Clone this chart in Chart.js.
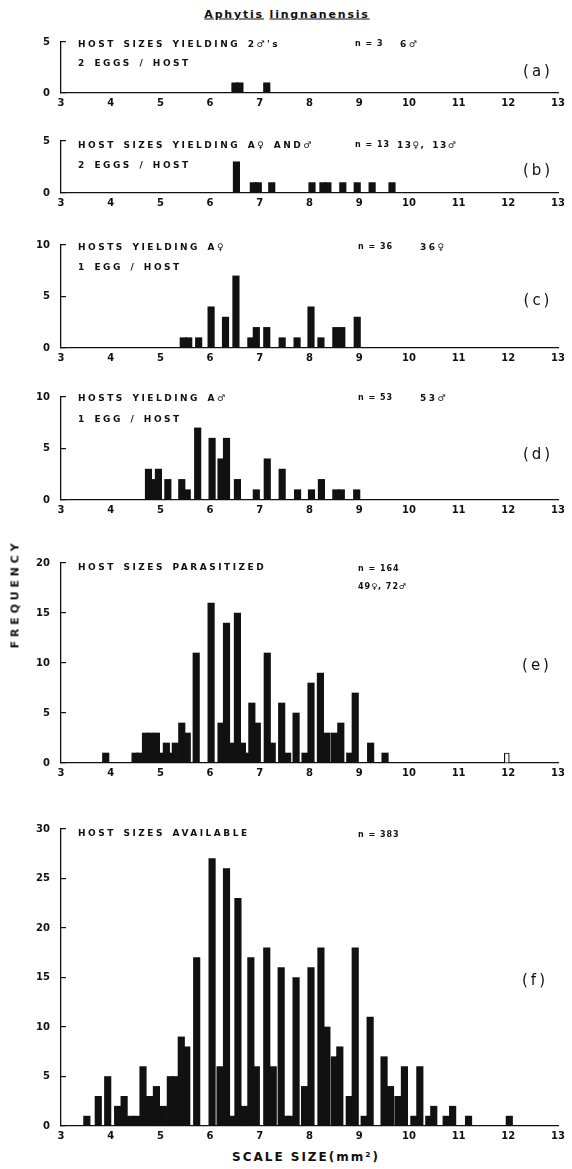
<!DOCTYPE html>
<html>
<head>
<meta charset="utf-8">
<title>Aphytis lingnanensis - host sizes</title>
<script src="https://cdn.jsdelivr.net/npm/chart.js@4.4.1/dist/chart.umd.min.js"></script>
<style>
  body { margin: 0; background: #fff; }
  #page { position: relative; width: 572px; height: 1169px; overflow: hidden; background: #fff; color: #111; font-family: "DejaVu Sans", sans-serif; }
  canvas { position: absolute; left: 0; }
  .t { position: absolute; white-space: nowrap; line-height: 1; transform: translateY(-50%); font-weight: bold; font-size: 9px; letter-spacing: 2.5px; word-spacing: 2px; }
  .n { font-size: 8px; letter-spacing: 1px; word-spacing: 0; }
  .lab { position: absolute; line-height: 1; transform: translate(-50%, -50%); font-size: 15px; letter-spacing: 3px; white-space: nowrap; }
  #title { position: absolute; left: 287px; top: 14px; transform: translate(-50%, -50%); font-weight: bold; font-size: 11px; letter-spacing: 1.8px; white-space: nowrap; }
  #title span { text-decoration: underline; }
  #ylab { position: absolute; left: 15px; top: 594px; transform: translate(-50%, -50%) rotate(-90deg); font-weight: bold; font-size: 11px; letter-spacing: 3.8px; white-space: nowrap; }
  #xlab { position: absolute; left: 306px; top: 1157px; transform: translate(-50%, -50%); font-weight: bold; font-size: 12px; letter-spacing: 2px; white-space: nowrap; }
</style>
</head>
<body>
<div id="page">
  <div id="title"><span>Aphytis</span> <span>lingnanensis</span></div>

  <canvas id="chartA"></canvas>
  <canvas id="chartB"></canvas>
  <canvas id="chartC"></canvas>
  <canvas id="chartD"></canvas>
  <canvas id="chartE"></canvas>
  <canvas id="chartF"></canvas>

  <!-- panel (a) -->
  <div class="t" style="left:78px; top:44px;">HOST SIZES YIELDING 2♂'s</div>
  <div class="t" style="left:78px; top:63px;">2 EGGS / HOST</div>
  <div class="t n" style="left:355px; top:44px;">n = 3</div>
  <div class="t" style="left:400px; top:44px;">6♂</div>
  <div class="lab" style="left:538px; top:71px;">(a)</div>

  <!-- panel (b) -->
  <div class="t" style="left:78px; top:145px;">HOST SIZES YIELDING A♀ AND♂</div>
  <div class="t" style="left:78px; top:165px;">2 EGGS / HOST</div>
  <div class="t n" style="left:355px; top:145px;">n = 13</div>
  <div class="t" style="left:397px; top:145px; letter-spacing:1.5px;">13♀, 13♂</div>
  <div class="lab" style="left:538px; top:170px;">(b)</div>

  <!-- panel (c) -->
  <div class="t" style="left:78px; top:247px;">HOSTS YIELDING A♀</div>
  <div class="t" style="left:78px; top:267px;">1 EGG / HOST</div>
  <div class="t n" style="left:358px; top:247px;">n = 36</div>
  <div class="t" style="left:420px; top:247px;">36♀</div>
  <div class="lab" style="left:538px; top:300px;">(c)</div>

  <!-- panel (d) -->
  <div class="t" style="left:78px; top:398px;">HOSTS YIELDING A♂</div>
  <div class="t" style="left:78px; top:419px;">1 EGG / HOST</div>
  <div class="t n" style="left:358px; top:398px;">n = 53</div>
  <div class="t" style="left:420px; top:398px;">53♂</div>
  <div class="lab" style="left:538px; top:454px;">(d)</div>

  <!-- panel (e) -->
  <div class="t" style="left:78px; top:567px;">HOST SIZES PARASITIZED</div>
  <div class="t n" style="left:358px; top:569px;">n = 164</div>
  <div class="t n" style="left:358px; top:587px;">49♀, 72♂</div>
  <div class="lab" style="left:537px; top:665px;">(e)</div>

  <!-- panel (f) -->
  <div class="t" style="left:78px; top:833px;">HOST SIZES AVAILABLE</div>
  <div class="t n" style="left:358px; top:835px;">n = 383</div>
  <div class="lab" style="left:535px; top:980px;">(f)</div>

  <div id="ylab">FREQUENCY</div>
  <div id="xlab">SCALE SIZE(mm²)</div>
</div>

<script>
// Scale size (mm²) of each bar and the number of hosts in it, per panel

// (a) host sizes yielding 2 males, 2 eggs / host
const aSizes = [6.50, 6.60, 7.14];
const aCounts = [1, 1, 1];

// (b) host sizes yielding a female and a male, 2 eggs / host
const bSizes = [6.53, 6.87, 6.97, 7.24, 8.05, 8.27, 8.37, 8.67, 8.96, 9.26, 9.66];
const bCounts = [3, 1, 1, 1, 1, 1, 1, 1, 1, 1, 1];

// (c) hosts yielding a female, 1 egg / host
const cSizes = [5.46, 5.57, 5.77, 6.02, 6.31, 6.52, 6.82, 6.93, 7.14, 7.45, 7.75, 8.03, 8.23, 8.53, 8.65, 8.96];
const cCounts = [1, 1, 1, 4, 3, 7, 1, 2, 2, 1, 1, 4, 1, 2, 2, 3];

// (d) hosts yielding a male, 1 egg / host
const dSizes = [4.76, 4.86, 4.96, 5.15, 5.43, 5.54, 5.75, 6.04, 6.22, 6.33, 6.55, 6.93, 7.15, 7.45, 7.76, 8.04, 8.24, 8.53, 8.64, 8.95];
const dCounts = [3, 2, 3, 2, 2, 1, 7, 6, 4, 6, 2, 1, 4, 3, 1, 1, 2, 1, 1, 1];

// (e) host sizes parasitized
const eSizes = [3.90, 4.49, 4.59, 4.70, 4.81, 4.92, 5.03, 5.12, 5.20, 5.30, 5.43, 5.54, 5.72, 6.02, 6.22, 6.33, 6.44, 6.55, 6.65, 6.74,
                6.84, 6.95, 7.15, 7.25, 7.44, 7.56, 7.73, 7.91, 8.03, 8.22, 8.35, 8.50, 8.63, 8.81, 8.92, 9.23, 9.52];
const eCounts = [1, 1, 1, 3, 3, 3, 1, 2, 1, 2, 4, 3, 11, 16, 4, 14, 2, 15, 2, 1,
                 6, 4, 11, 2, 6, 1, 5, 1, 8, 9, 3, 3, 4, 1, 7, 2, 1];
// open (unfilled) bar in (e)
const eOpenSizes = [11.97];
const eOpenCounts = [1];

// (f) host sizes available
const fSizes = [3.52, 3.75, 3.94, 4.14, 4.27, 4.40, 4.52, 4.65, 4.78, 4.92, 5.06, 5.20, 5.31, 5.42, 5.53, 5.73, 6.04, 6.20, 6.33, 6.44,
                6.56, 6.69, 6.82, 6.93, 7.14, 7.27, 7.43, 7.53, 7.62, 7.73, 7.90, 8.03, 8.23, 8.35, 8.50, 8.61, 8.80, 8.92, 9.10, 9.22,
                9.50, 9.63, 9.78, 9.91, 10.10, 10.22, 10.40, 10.50, 10.75, 10.88, 11.20, 12.02];
const fCounts = [1, 3, 5, 2, 3, 1, 1, 6, 3, 4, 2, 5, 5, 9, 8, 17, 27, 6, 26, 1,
                 23, 2, 17, 6, 18, 6, 16, 1, 1, 15, 4, 16, 18, 10, 7, 8, 3, 18, 1, 11,
                 7, 4, 3, 6, 1, 6, 1, 2, 1, 2, 1, 1];
// small open circle printed inside the 5.3 bar of (f)
const fMarkSizes = [5.27];
const fMarkCounts = [3.6];

// axis ticks shared by all panels
const xTickMin = 3;
const xTickMax = 13;
const yTickStep = 5;

const ink = '#111';
const tickFont = { family: 'DejaVu Sans', size: 10, weight: 'bold' };

function toPoints(sizes, counts) {
    return sizes.map((x, i) => ({ x: x, y: counts[i] }));
}

function barSet(sizes, counts) {
    return {
        type: 'bar',
        data: toPoints(sizes, counts),
        backgroundColor: ink,
        borderWidth: 0,
        barThickness: 6.5,
        grouped: false
    };
}

/**
 * Draw one histogram panel.
 * top is the page y of the highest y tick, base the page y of the zero line.
 */
function makePanel(id, top, base, yMax, datasets) {
    // the y axis asks for label height / 2 + tick padding above the plot
    const padTop = 22;
    const xAxisHeight = 22;
    const canvas = document.getElementById(id);
    canvas.width = 572;
    canvas.height = (base - top) + padTop + xAxisHeight;
    canvas.style.top = (top - padTop) + 'px';

    return new Chart(canvas, {
        type: 'bar',
        data: { datasets: datasets },
        options: {
            responsive: false,
            animation: false,
            devicePixelRatio: 1,
            layout: { padding: { top: padTop, right: 14, left: 0, bottom: 0 } },
            plugins: {
                legend: { display: false },
                tooltip: { enabled: false }
            },
            scales: {
                x: {
                    type: 'linear',
                    min: xTickMin,
                    max: xTickMax,
                    offset: false,
                    ticks: { stepSize: 1, padding: 4, color: ink, font: tickFont, maxRotation: 0, autoSkip: false },
                    grid: { display: false, drawTicks: false },
                    border: { display: true, color: ink, width: 1.3 },
                    afterFit: s => { s.height = xAxisHeight; }
                },
                y: {
                    min: 0,
                    max: yMax,
                    ticks: { stepSize: yTickStep, padding: 16, color: ink, font: tickFont },
                    grid: { drawOnChartArea: false, drawTicks: true, tickLength: -5, color: ink, lineWidth: 1.2 },
                    border: { display: true, color: ink, width: 1.3 },
                    afterFit: s => { s.width = 61; }
                }
            }
        }
    });
}

makePanel('chartA', 42, 93, 5, [barSet(aSizes, aCounts)]);
makePanel('chartB', 141, 193, 5, [barSet(bSizes, bCounts)]);
makePanel('chartC', 245, 348, 10, [barSet(cSizes, cCounts)]);
makePanel('chartD', 397, 500, 10, [barSet(dSizes, dCounts)]);

const openBar = {
    type: 'bar',
    data: toPoints(eOpenSizes, eOpenCounts),
    backgroundColor: '#fff',
    borderColor: ink,
    borderWidth: 1.2,
    barThickness: 5,
    grouped: false
};
makePanel('chartE', 563, 763, 20, [barSet(eSizes, eCounts), openBar]);

const mark = {
    type: 'scatter',
    data: toPoints(fMarkSizes, fMarkCounts),
    pointStyle: 'circle',
    pointRadius: 2,
    backgroundColor: ink,
    borderColor: '#fff',
    borderWidth: 0.8
};
makePanel('chartF', 829, 1126, 30, [barSet(fSizes, fCounts), mark]);
</script>
</body>
</html>
